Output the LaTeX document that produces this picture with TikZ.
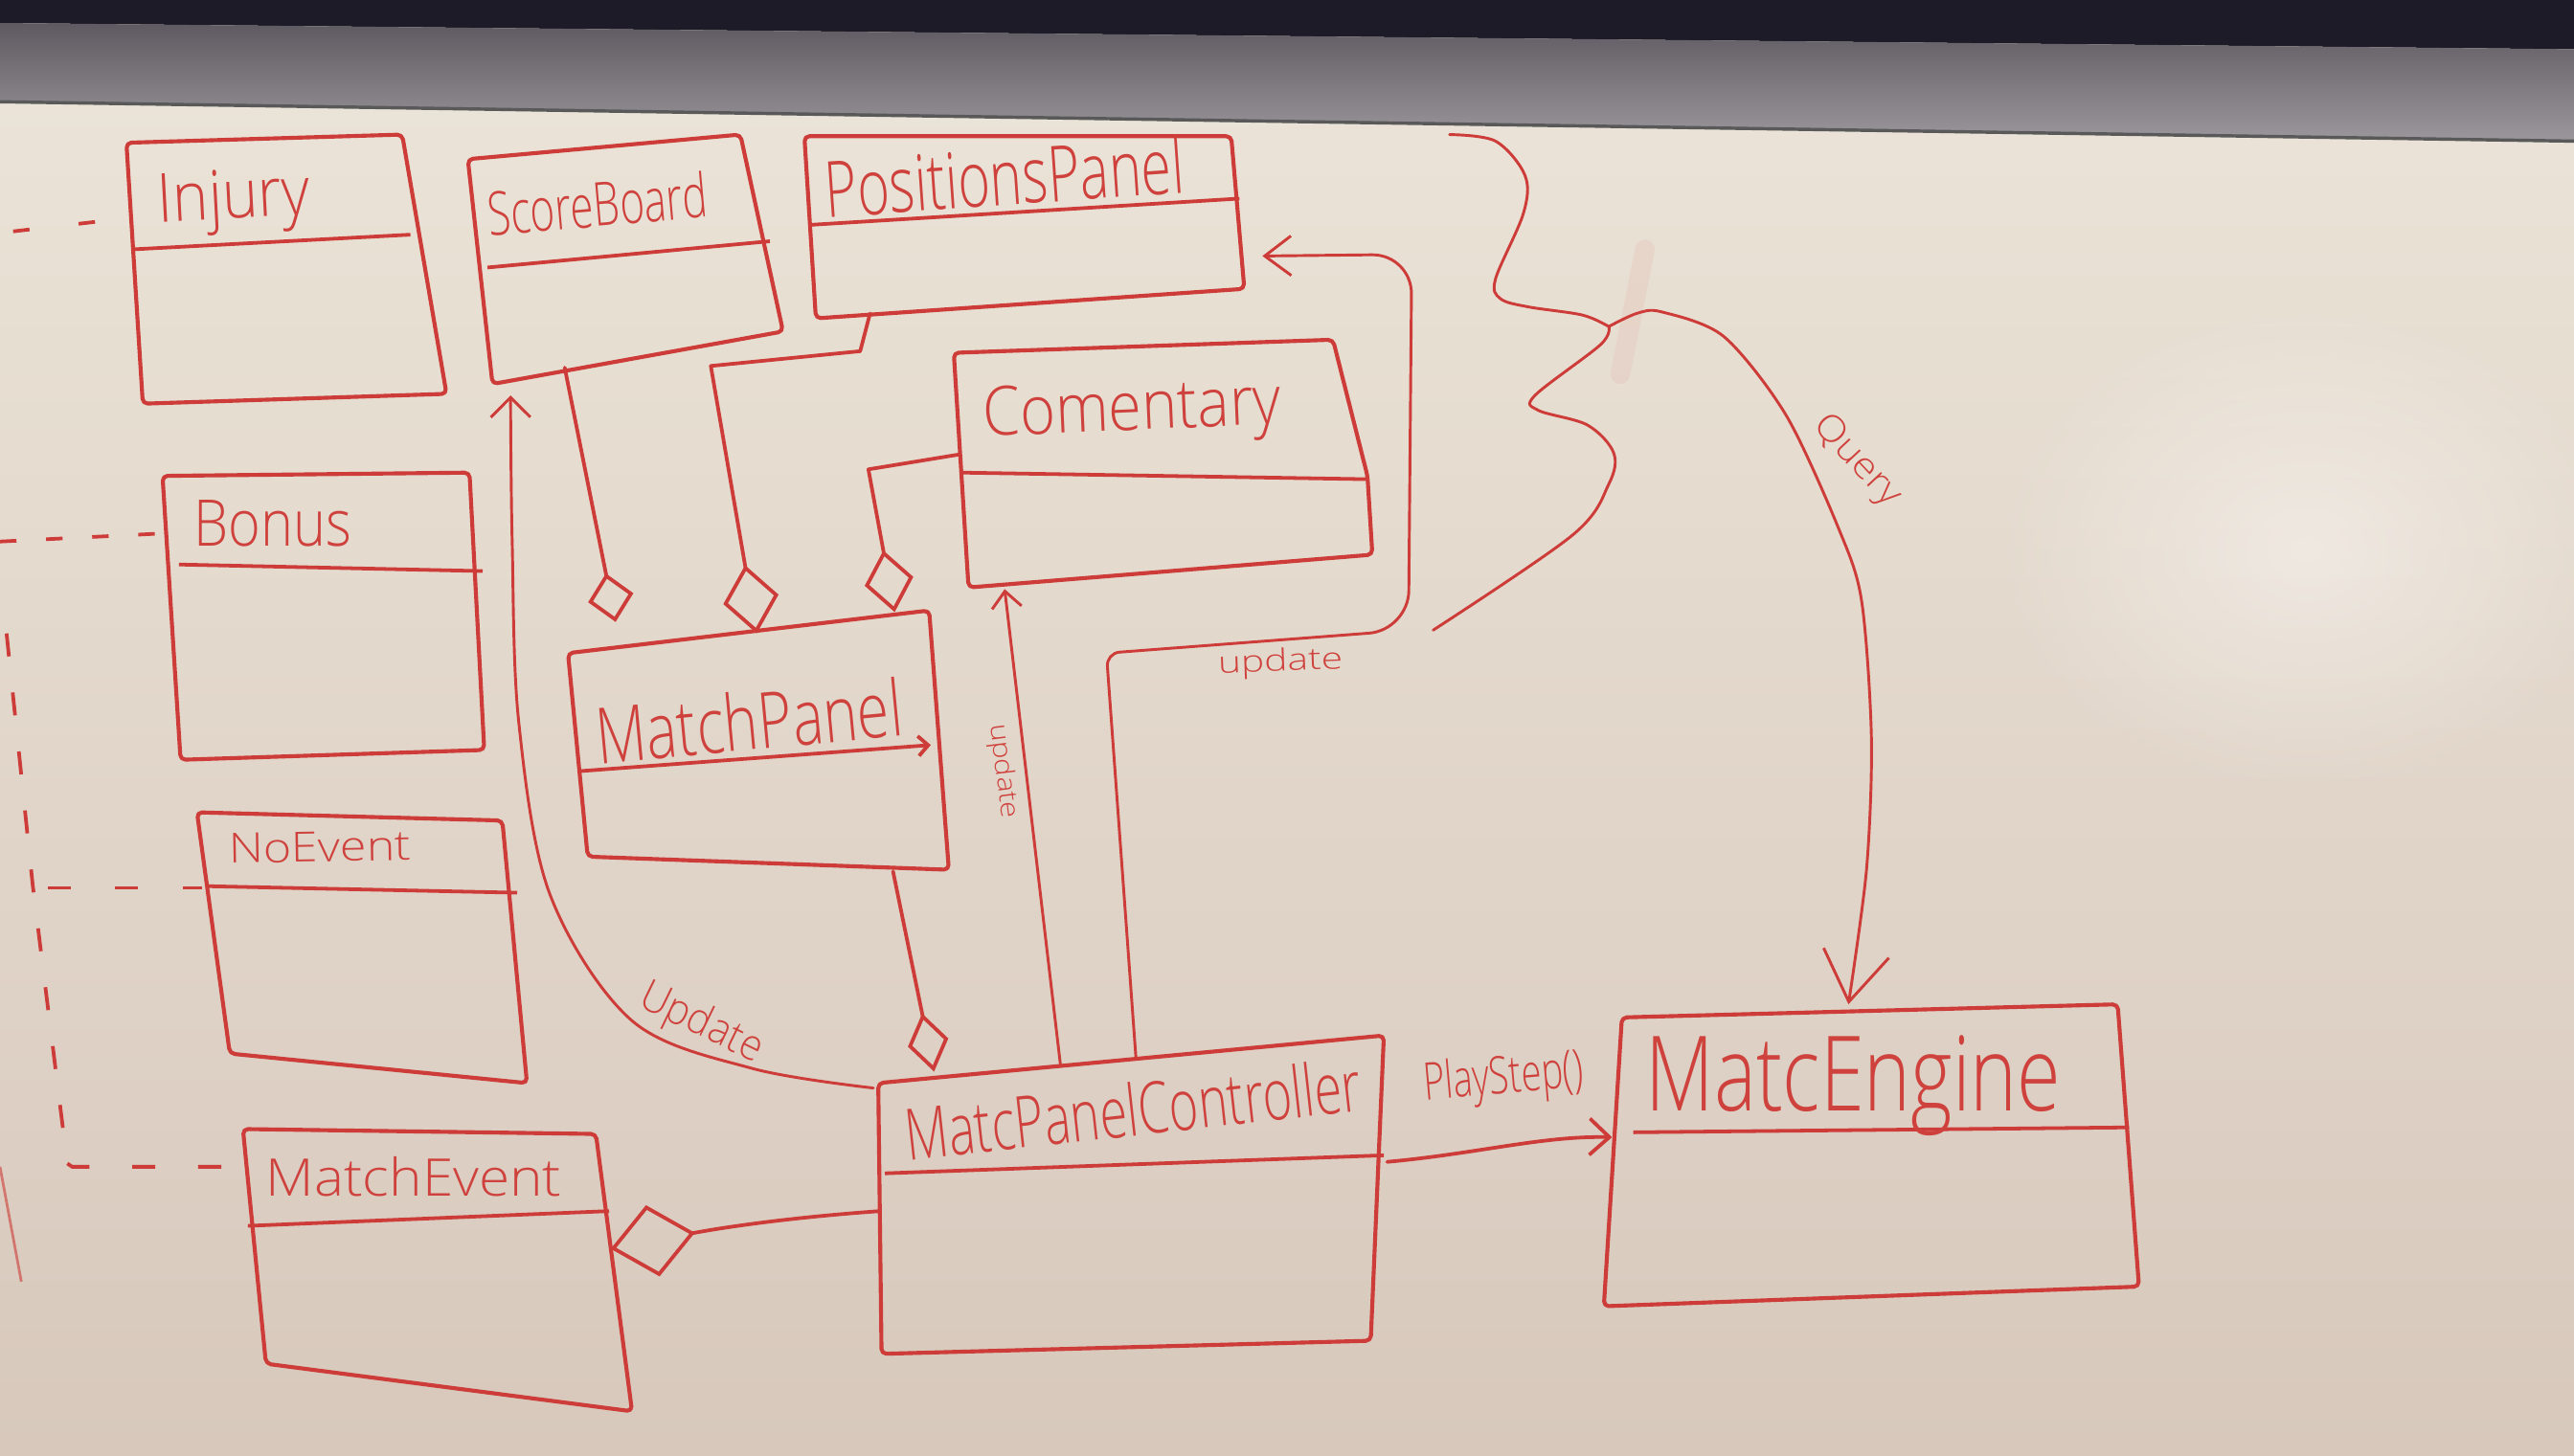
\documentclass[tikz,border=0pt]{standalone}
\usepackage{fontspec}
\usepackage{graphicx}
\usetikzlibrary{arrows.meta,fadings}
\tikzfading[name=glarefade, inner color=transparent!0, outer color=transparent!100]
\newfontfamily\handfont{Open Sans}[UprightFont={* Light}]
\newlength\hu \setlength\hu{0.0175cm}
\newcommand\hw[3]{\resizebox{#1\hu}{#2\hu}{\fontsize{16pt}{16pt}\handfont #3}}
\definecolor{ink}{HTML}{CD3C38}
\definecolor{inktext}{HTML}{CF413C}
\definecolor{boardtop}{HTML}{ECE5D9}
\definecolor{boardbot}{HTML}{D8C8BC}
\definecolor{framecol}{HTML}{1C1B27}
\definecolor{ledgetop}{HTML}{5E5A61}
\definecolor{ledgebot}{HTML}{9C979C}
\begin{document}
\begin{tikzpicture}[x=0.0175cm,y=-0.0175cm,
  box/.style={draw=ink, line width=1.2pt, line join=round, rounded corners=1.5pt},
  divider/.style={draw=ink, line width=1.1pt},
  link/.style={draw=ink, line width=1.1pt, line join=round, line cap=round},
  thinlink/.style={draw=ink, line width=0.85pt, line join=round, line cap=round},
  title/.style={inner sep=0pt, anchor=base, text=inktext},
  lbl/.style={inner sep=0pt, anchor=center, text=inktext},
  inh/.style={draw=ink, line width=1.1pt}
]
\useasboundingbox (0,0) rectangle (1568,887);
% ---------- board ----------
\shade[top color=boardtop, bottom color=boardbot] (0,0) rectangle (1568,887);
\fill[white, opacity=0.4, path fading=glarefade] (1405,335) ellipse [x radius=190, y radius=150];
\fill[framecol] (0,0) -- (1568,0) -- (1568,30) -- (0,14) -- cycle;
\shade[top color=ledgetop, bottom color=ledgebot] (0,14) -- (1568,30) -- (1568,86) -- (0,62) -- cycle;
\draw[line width=1pt, black!65] (0,62) -- (1568,86);
\draw[line width=6pt, ink!60, opacity=0.12, line cap=round] (1002,152) -- (987,228);

% ---------- classes ----------
% Injury
\draw[box] (77,87) -- (245,82) -- (272,240) -- (87,246) -- cycle;
\draw[divider] (80,152) -- (250,143);
\node[title, rotate=3] (injury) at (143,133) {\hw{93}{30}{Injury}};
% ScoreBoard
\draw[box] (285,97) -- (451,82) -- (477,202) -- (300,234) -- cycle;
\draw[divider] (297,163) -- (469,147);
\node[title, rotate=5] (scoreboard) at (365,138) {\hw{134}{28}{ScoreBoard}};
% PositionsPanel
\draw[box] (490,83) -- (750,83) -- (758,176) -- (497,194) -- cycle;
\draw[divider] (494,137) -- (755,121);
\node[title, rotate=4] (positions) at (613,125) {\hw{219}{36}{PositionsPanel}};
% Comentary
\draw[box] (581,215) -- (812,207) -- (833,290) -- (836,338) -- (590,358) -- cycle;
\draw[divider] (586,288) -- (832,292);
\node[title, rotate=2.5] (comentary) at (690,262) {\hw{182}{30}{Comentary}};
% Bonus
\draw[box] (99,290) -- (286,288) -- (295,457) -- (110,463) -- cycle;
\draw[divider] (109,344) -- (294,348);
\node[title] (bonus) at (166,333) {\hw{96}{28}{Bonus}};
% MatchPanel
\draw[box] (346,398) -- (566,372) -- (578,530) -- (358,522) -- cycle;
\draw[divider, -{Straight Barb[length=3pt,width=6pt]}] (352,470) -- (567,454);
\node[title, rotate=5.4] (matchpanel) at (458,457) {\hw{187}{36}{MatchPanel}};
% NoEvent
\draw[box] (120,495) -- (306,500) -- (321,660) -- (140,642) -- cycle;
\draw[divider] (126,540) -- (315,544);
\node[title, rotate=1] (noevent) at (195,525) {\hw{111}{18}{NoEvent}};
% MatchEvent
\draw[box] (148,688) -- (363,691) -- (385,860) -- (162,831) -- cycle;
\draw[divider] (151,747) -- (371,738);
\node[title] (matchevent) at (252,729) {\hw{180}{24}{MatchEvent}};
% MatcPanelController
\draw[box] (535,660) -- (843,631) -- (835,817) -- (537,825) -- cycle;
\draw[divider] (539,715) -- (843,704);
\node[title, rotate=6.3] (controller) at (692,692) {\hw{279}{33}{MatcPanelController}};
% MatcEngine
\draw[box] (988,620) -- (1290,612) -- (1303,784) -- (977,796) -- cycle;
\draw[divider] (995,690) -- (1297,687);
\node[title] (engine) at (1129,677) {\hw{253}{46}{MatcEngine}};

% ---------- attachment points ----------
\coordinate (sb-s) at (344,224);   \coordinate (mp-n1) at (375,379);
\coordinate (pp-s) at (530,191);   \coordinate (mp-n2) at (461,386);
\coordinate (cm-w) at (584,277);   \coordinate (mp-n3) at (545,373);
\coordinate (mp-s) at (544,531);   \coordinate (ctl-n1) at (569,653);
\coordinate (ctl-w) at (536,738);  \coordinate (me-e) at (372,761);
\coordinate (ctl-nw) at (532,663); \coordinate (sb-up) at (311,241);
\coordinate (ctl-n2) at (646,649); \coordinate (cm-s) at (612,359);
\coordinate (ctl-n3) at (692,645); \coordinate (pp-e) at (769,156);
\coordinate (ctl-e) at (845,708);  \coordinate (eng-w) at (982,693);
\coordinate (sq-j) at (980,199);   \coordinate (eng-n) at (1126,612);
\coordinate (inj-w) at (77,133);   \coordinate (off-inj) at (8,141);
\coordinate (bon-w) at (100,325);  \coordinate (off-bon) at (0,330);
\coordinate (noe-w) at (123,541);  \coordinate (off-noe) at (29,541);
\coordinate (me-w) at (148,711);   \coordinate (v-top) at (4,386);
\coordinate (v-mid) at (20,540);   \coordinate (v-bot) at (41,709);

% ---------- aggregations ----------
\draw[link, -{Diamond[open, length=15pt, width=14pt]}] (sb-s) -- (mp-n1);
\draw[link, -{Diamond[open, length=21pt, width=17pt]}] (pp-s) -- (524,214) -- (433,223) -- (mp-n2);
\draw[link, -{Diamond[open, length=19pt, width=15pt]}] (cm-w) -- (529,286) -- (mp-n3);
\draw[link, -{Diamond[open, length=18pt, width=12.5pt]}] (mp-s) -- (ctl-n1);
\draw[link, -{Diamond[open, length=26pt, width=22pt]}] (ctl-w) .. controls (480,742) and (440,748) .. (me-e);

% ---------- update calls ----------
\draw[thinlink, -{Straight Barb[length=6pt, width=12pt]}] plot[smooth, tension=0.55]
  coordinates {(ctl-nw) (458,651) (385,622) (335,545) (316,440) (312,330) (sb-up)};
\node[lbl, rotate=-26] (lbl-update1) at (427,624) {\hw{80}{20}{Update}};
\draw[thinlink, -{Straight Barb[length=5pt, width=9pt]}] (ctl-n2) -- (cm-s);
\node[lbl, rotate=-83] (lbl-update2) at (611,470) {\hw{58}{12}{update}};
\draw[thinlink, -{Straight Barb[length=8pt, width=12pt]}] (ctl-n3) [rounded corners=4pt] -- (674,398)
  [rounded corners=12pt] -- (858,384) -- (860,155) -- (pp-e);
\node[lbl, rotate=2] (lbl-update3) at (780,404) {\hw{76}{14}{update}};

% ---------- PlayStep ----------
\draw[link, -{Straight Barb[length=6pt, width=11pt]}] (ctl-e) .. controls (900,703) and (940,692) .. (eng-w);
\node[lbl, rotate=5] (lbl-play) at (916,658) {\hw{97}{24}{PlayStep()}};

% ---------- squiggle and Query ----------
\draw[thinlink] plot[smooth, tension=0.55] coordinates {(883,82) (911,86) (929,107) (928,130) (911,170) (914,182) (931,187) (964,192) (sq-j)};
\draw[thinlink] plot[smooth, tension=0.55] coordinates {(sq-j) (975,210) (935,241) (937,250) (967,259) (983,276) (980,295) (958,326) (873,384)};
\draw[thinlink, -{Straight Barb[length=15pt, width=20pt]}] plot[smooth, tension=0.5]
  coordinates {(sq-j) (997,191) (1012,190) (1050,205) (1088,253) (1120,322) (1134,366) (1140,450) (1137,530) (eng-n)};
\node[lbl, rotate=-47] (lbl-query) at (1131,281) {\hw{68}{16}{Query}};

% ---------- inheritance lines leaving the board ----------
\draw[inh, dash pattern=on 5pt off 15pt] (off-inj) -- (inj-w);
\draw[inh, dash pattern=on 5pt off 9pt] (off-bon) -- (bon-w);
\draw[inh, dash pattern=on 7pt off 13.5pt] (off-noe) -- (noe-w);
\draw[inh, dash pattern=on 7pt off 11pt] (v-top) -- (v-mid) -- (v-bot);
\draw[inh, dash pattern=on 7pt off 13pt] (v-bot) -- (44,711) -- (me-w);
\draw[line width=0.8pt, ink, opacity=0.6] (0,711) -- (13,781);
\end{tikzpicture}
\end{document}
